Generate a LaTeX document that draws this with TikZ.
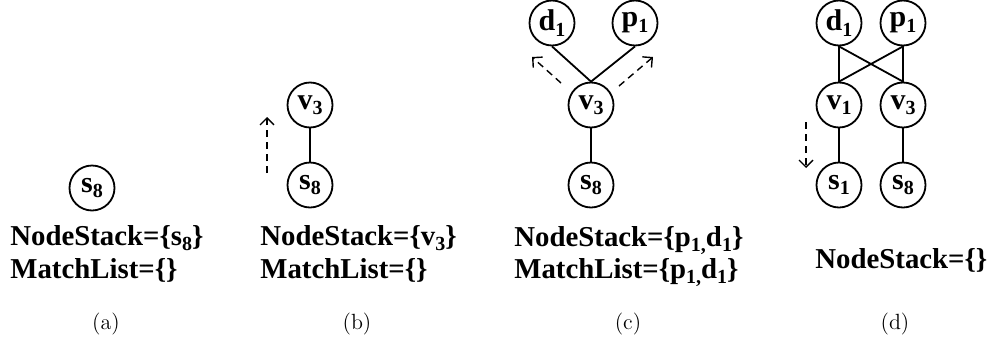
\documentclass[tikz,border=0pt]{standalone}
\usepackage{fontspec}
\usepackage{graphicx}
\newfontfamily\tnr{Liberation Serif}
\usetikzlibrary{arrows.meta}
\newcommand\sbs[1]{\raisebox{-0.4ex}{\fontsize{10}{10}\selectfont #1}}
\tikzset{
  vtx/.style={circle,draw,line width=0.9pt,minimum size=22.5pt,inner sep=0pt,
    font=\fontsize{15}{15}\selectfont\tnr\bfseries},
  edg/.style={line width=0.9pt},
  darr/.style={line width=0.7pt,dash pattern=on 3.5pt off 2.5pt,
    -{Straight Barb[length=3.5pt,width=7pt]}},
  info/.style={anchor=base west,inner sep=0pt,font=\fontsize{14.4}{16}\selectfont\tnr\bfseries},
  sublabel/.style={inner sep=0pt,font=\fontsize{11}{13}\selectfont}
}
\begin{document}
\begin{tikzpicture}[x=0.5pt,y=-0.5pt]
\useasboundingbox (0,0) rectangle (995,343);
% (a)
\node[vtx] (as8) at (92,188) {s\sbs{8}};
\node[info] (ans) at (10,245) {NodeStack=\{s\sbs{8}\}};
\node[info] (aml) at (10,278) {MatchList=\{\}};
\node[sublabel] (la) at (106,324) {(a)};
% (b)
\node[vtx] (bv3) at (310,105) {v\sbs{3}};
\node[vtx] (bs8) at (310,185) {s\sbs{8}};
\draw[edg] (bv3) -- (bs8);
\coordinate (ba1) at (267,173);
\coordinate (ba2) at (267,117);
\draw[darr] (ba1) -- (ba2);
\node[info] (bns) at (260,245) {NodeStack=\{v\sbs{3}\}};
\node[info] (bml) at (260,278) {MatchList=\{\}};
\node[sublabel] (lb) at (357,324) {(b)};
% (c)
\node[vtx] (cd1) at (552,23) {d\sbs{1}};
\node[vtx] (cp1) at (635,23) {p\sbs{1}};
\node[vtx] (cv3) at (591,105) {v\sbs{3}};
\node[vtx] (cs8) at (591,185) {s\sbs{8}};
\draw[edg] (cv3.north) -- (cd1.south);
\draw[edg] (cv3.north) -- (cp1.south);
\draw[edg] (cv3) -- (cs8);
\coordinate (ca1) at (561,83);
\coordinate (ca2) at (532,57);
\coordinate (ca3) at (619,86);
\coordinate (ca4) at (653,57);
\draw[darr] (ca1) -- (ca2);
\draw[darr] (ca3) -- (ca4);
\node[info] (cns) at (514,246) {NodeStack=\{p\sbs{1,}d\sbs{1}\}};
\node[info] (cml) at (514,278) {MatchList=\{p\sbs{1,}d\sbs{1}\}};
\node[sublabel] (lc) at (628,324) {(c)};
% (d)
\node[vtx] (dd1) at (839,23) {d\sbs{1}};
\node[vtx] (dp1) at (903,23) {p\sbs{1}};
\node[vtx] (dv1) at (839,105) {v\sbs{1}};
\node[vtx] (dv3) at (903,105) {v\sbs{3}};
\node[vtx] (ds1) at (839,185) {s\sbs{1}};
\node[vtx] (ds8) at (903,185) {s\sbs{8}};
\draw[edg] (dd1.south) -- (dv1.north);
\draw[edg] (dd1.south) -- (dv3.north);
\draw[edg] (dp1.south) -- (dv1.north);
\draw[edg] (dp1.south) -- (dv3.north);
\draw[edg] (dv1) -- (ds1);
\draw[edg] (dv3) -- (ds8);
\coordinate (da1) at (806,122);
\coordinate (da2) at (806,168);
\draw[darr] (da1) -- (da2);
\node[info] (dns) at (815,268) {NodeStack=\{\}};
\node[sublabel] (ld) at (895,324) {(d)};
\end{tikzpicture}
\end{document}
